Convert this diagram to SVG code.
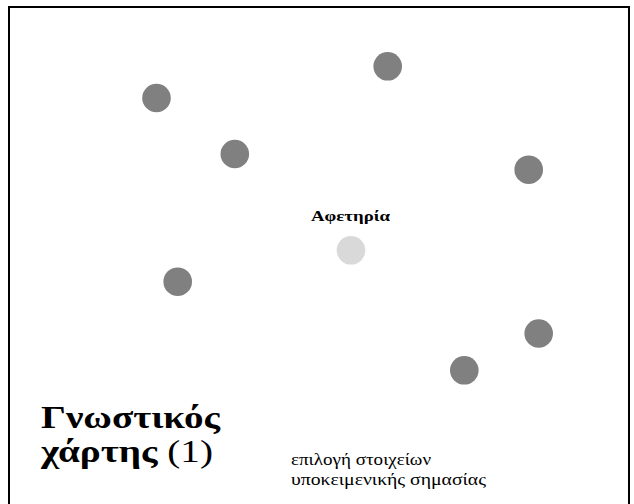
<svg xmlns="http://www.w3.org/2000/svg" width="634" height="504" viewBox="0 0 634 504">
<style>
.dot{fill:#808080}
.start{fill:#d9d9d9}
.serif{font-family:"Liberation Serif","DejaVu Serif",serif;fill:#000}
</style>
<rect x="0" y="0" width="634" height="504" fill="#fff"/>
<rect x="9" y="7" width="620" height="520" fill="none" stroke="#000" stroke-width="2"/>
<g id="connectors"></g>
<g id="n1"><circle class="dot" cx="156.5" cy="98" r="14.3"/></g>
<g id="n2"><circle class="dot" cx="234.8" cy="154" r="14.3"/></g>
<g id="n3"><circle class="dot" cx="387.7" cy="66.3" r="14.3"/></g>
<g id="n4"><circle class="dot" cx="528.7" cy="169.7" r="14.3"/></g>
<g id="n5"><circle class="dot" cx="177.7" cy="281.7" r="14.3"/></g>
<g id="n6"><circle class="dot" cx="538.7" cy="333.5" r="14.3"/></g>
<g id="n7"><circle class="dot" cx="464.3" cy="370.3" r="14.3"/></g>
<g id="start"><circle class="start" cx="351" cy="250.3" r="14.3"/>
<text class="serif" x="311" y="221" font-size="15" font-weight="bold" textLength="79" lengthAdjust="spacingAndGlyphs">Αφετηρία</text></g>
<g id="title">
<text class="serif" x="41" y="428" font-size="31" font-weight="bold" textLength="179" lengthAdjust="spacingAndGlyphs">Γνωστικός</text>
<text class="serif" x="41" y="462" font-size="31" textLength="172" lengthAdjust="spacingAndGlyphs"><tspan font-weight="bold">χάρτης</tspan> (1)</text>
</g>
<g id="note">
<text class="serif" x="291" y="465" font-size="16" textLength="140" lengthAdjust="spacingAndGlyphs">επιλογή στοιχείων</text>
<text class="serif" x="291" y="485" font-size="16" textLength="195" lengthAdjust="spacingAndGlyphs">υποκειμενικής σημασίας</text>
</g>
</svg>
